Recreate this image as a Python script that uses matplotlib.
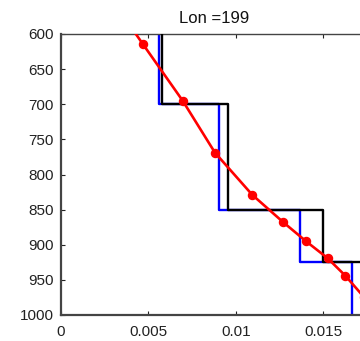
import matplotlib
matplotlib.use("Agg")
import matplotlib.pyplot as plt

plt.rcParams['font.family'] = ['Liberation Sans', 'DejaVu Sans']

# Profile values (pressure in hPa)
red_x = [0.00316, 0.004674, 0.006962, 0.00881, 0.010944, 0.012717, 0.014016, 0.015246, 0.016264, 0.01735]
red_p = [560, 614, 695, 769, 829, 868, 895, 919, 944, 975]

# Layer boundaries and layer-mean values
layer_edges = [550, 700, 850, 925, 1000]
blue_vals = [0.005624, 0.009039, 0.013673, 0.016665]
black_vals = [0.005795, 0.009571, 0.014971, 0.0178]

yticks = [600, 650, 700, 750, 800, 850, 900, 950, 1000]
xticks = [0, 0.005, 0.01, 0.015]
xtick_labels = ['0', '0.005', '0.01', '0.015']


def step_coords(vals, edges):
    xs, ys = [], []
    for i, v in enumerate(vals):
        xs += [v, v]
        ys += [edges[i], edges[i + 1]]
    return xs, ys


fig = plt.figure(figsize=(3.60, 3.41), dpi=100)
ax = fig.add_axes([61 / 360, 26 / 341, 307 / 360, 281 / 341])

bx, by = step_coords(blue_vals, layer_edges)
kx, ky = step_coords(black_vals, layer_edges)
ax.plot(bx, by, color='#0000ff', lw=1.7, zorder=2)
ax.plot(kx, ky, color='black', lw=1.7, zorder=3)
ax.plot(red_x, red_p, color='#ff0000', lw=1.9, marker='o', ms=5.8, zorder=4)

ax.set_xlim(0, 307 / 17480)
ax.set_ylim(1000, 600)
ax.set_yticks(yticks)
ax.set_xticks(xticks)
ax.set_xticklabels(xtick_labels)
ax.tick_params(direction='in', top=True, right=True, length=3, width=0.8,
               labelsize=11, colors='#222222')
ax.tick_params(axis='x', pad=7)
ax.tick_params(axis='y', pad=5)
for s in ax.spines.values():
    s.set_color('#444444')
    s.set_linewidth(1.0)
ax.spines['left'].set_linewidth(1.6)
ax.spines['bottom'].set_linewidth(1.6)

ax.set_title('Lon =199', fontsize=12, pad=8, color='#111111')

fig.savefig('out.png', dpi=100)
